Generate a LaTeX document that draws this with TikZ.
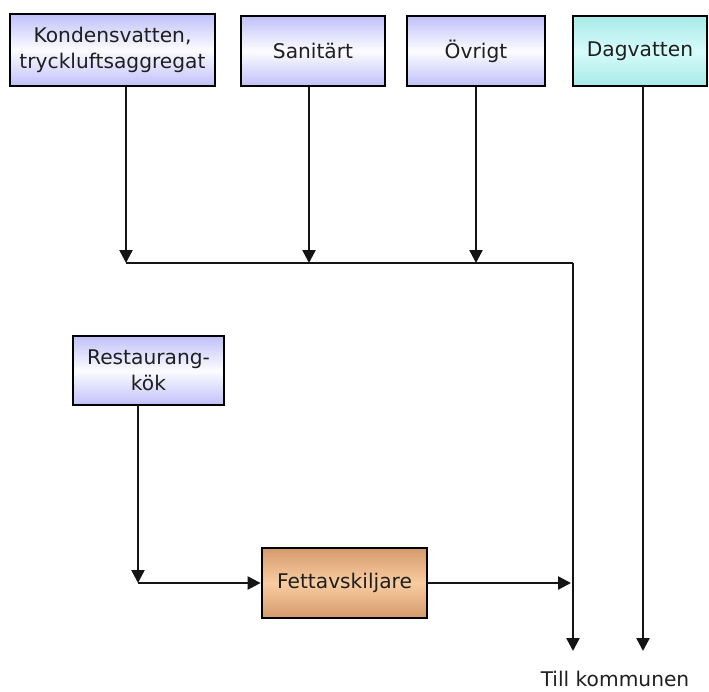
\documentclass[tikz,border=0pt]{standalone}
\usepackage{fontspec}
\setmainfont{DejaVu Sans}
\usetikzlibrary{arrows.meta}
\definecolor{lav}{RGB}{192,192,250}
\definecolor{lavw}{RGB}{252,252,255}
\definecolor{cya}{RGB}{168,234,232}
\definecolor{cyaw}{RGB}{214,252,250}
\definecolor{tan1}{RGB}{212,154,108}
\definecolor{tan2}{RGB}{248,204,160}
\tikzset{
  box/.style={draw=black, line width=2.8pt, align=center, inner sep=0pt,
    font=\fontsize{20.2}{25.5}\selectfont, text=black!88},
  lavbox/.style={box, top color=lav, bottom color=lav, middle color=lavw},
  cyabox/.style={box, top color=cya, bottom color=cya, middle color=cyaw},
  tanbox/.style={box, top color=tan1, bottom color=tan1, middle color=tan2},
  flow/.style={line width=2.4pt, draw=black!92},
  arr/.style={flow, -{Triangle[width=13pt,length=13pt]}},
}
\begin{document}
\begin{tikzpicture}[x=1pt,y=-1pt]
\useasboundingbox (0,0) rectangle (709,691);
\node[lavbox, minimum width=205, minimum height=72] (b1) at (112.5,50) {Kondensvatten,\\tryckluftsaggregat};
\node[lavbox, minimum width=144, minimum height=70] (b2) at (313,51) {Sanitärt};
\node[lavbox, minimum width=138, minimum height=70] (b3) at (476,51) {Övrigt};
\node[cyabox, minimum width=134, minimum height=70] (b4) at (640,51) {Dagvatten};
\node[lavbox, minimum width=151, minimum height=69] (r) at (148.5,370.5) {Restaurang-\\kök};
\node[tanbox, minimum width=165, minimum height=70] (f) at (344.5,583) {Fettavskiljare};
\node[font=\fontsize{20.2}{25}\selectfont, text=black!88] (till) at (615,679) {Till kommunen};

\coordinate (j1) at (126,263);
\coordinate (j2) at (309,263);
\coordinate (j3) at (476,263);
\coordinate (c1) at (573,263);
\coordinate (e1) at (573,651);
\coordinate (d1) at (643,86);
\coordinate (e2) at (643,651);
\coordinate (k) at (138,583);
\coordinate (rs) at (138,405);
\coordinate (m) at (571,583);

\draw[arr] (b1.south -| j1) -- (j1);
\draw[arr] (b2.south -| j2) -- (j2);
\draw[arr] (b3.south -| j3) -- (j3);
\draw[flow] (j1) -- (c1);
\draw[arr] (c1) -- (e1);
\draw[arr] (d1) -- (e2);
\draw[arr] (rs) -- (k);
\draw[arr] (k) -- (f.west);
\draw[arr] (f.east) -- (m);
\end{tikzpicture}
\end{document}
